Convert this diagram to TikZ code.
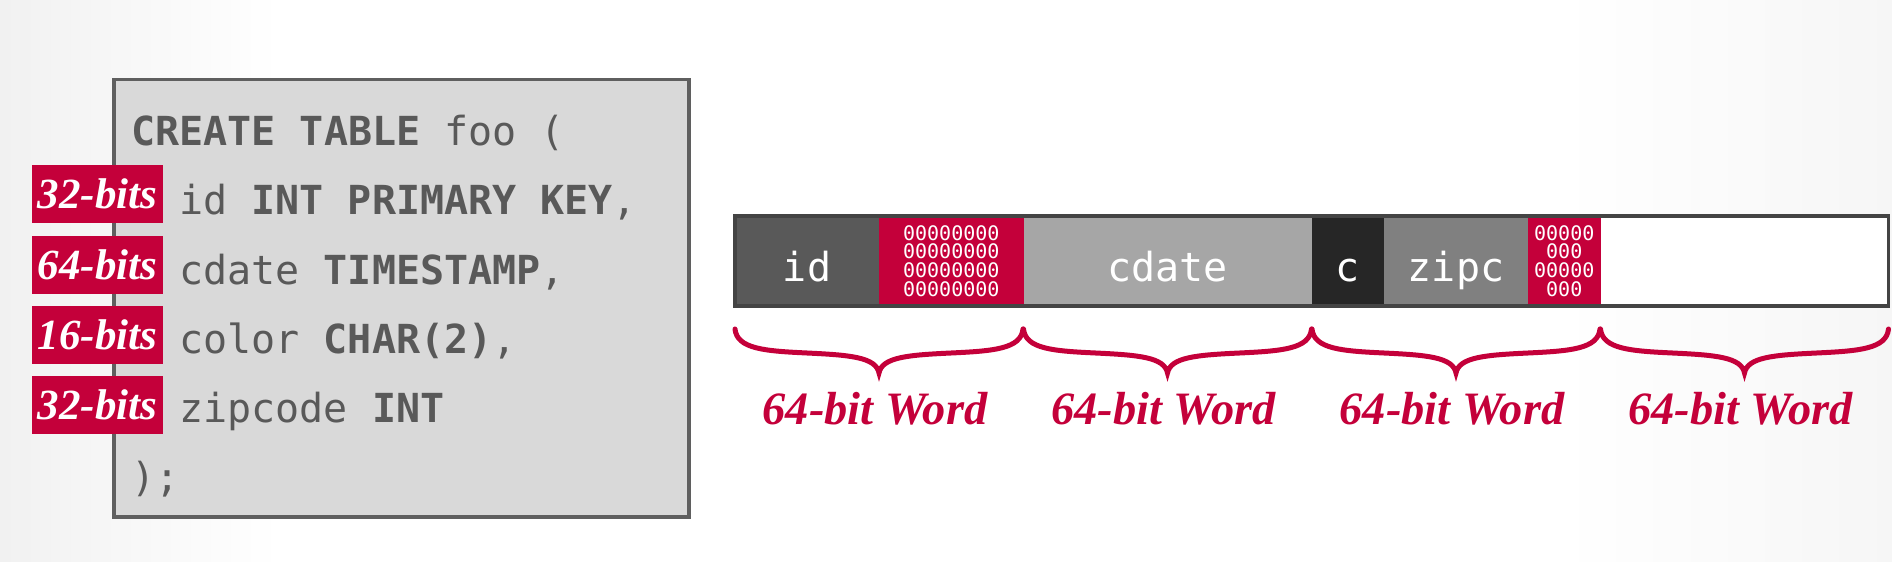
\documentclass[tikz,border=0pt]{standalone}
\usepackage{fontspec}
\setmonofont{DejaVu Sans Mono}
\newfontfamily\wordfont{Liberation Serif}
\usepackage{tikz}
\usepackage{xcolor}
\definecolor{cmured}{RGB}{196,0,58}
\definecolor{codegray}{RGB}{89,89,89}
\definecolor{boxfill}{RGB}{217,217,217}
\definecolor{boxline}{RGB}{95,95,95}
\definecolor{barline}{RGB}{68,68,68}
\definecolor{idgray}{RGB}{89,89,89}
\definecolor{dategray}{RGB}{166,166,166}
\definecolor{chargray}{RGB}{38,38,38}
\definecolor{zipgray}{RGB}{128,128,128}

\begin{document}
\begin{tikzpicture}[x = 0.5pt, y = -0.5pt,
		codeline/.style = {anchor = base west, inner sep = 0, text = codegray, font = \ttfamily\fontsize{20}{24}\selectfont},
		bitbadge/.style = {fill = cmured, text = white, inner sep = 0, minimum width = 65.5pt, minimum height = 29pt, font = \wordfont\bfseries\itshape\fontsize{21.5}{24}\selectfont},
		cell/.style = {anchor = west, inner sep = 0, outer sep = 0, minimum height = 45pt, text = white, text height = 20pt, text depth = 0pt, font = \ttfamily\fontsize{20}{24}\selectfont},
		padcell/.style = {anchor = west, inner sep = 0, outer sep = 0, minimum height = 45pt, fill = cmured, text = white, align = center, font = \ttfamily\fontsize{10}{9.4}\selectfont},
		wordbrace/.style = {draw = cmured, line width = 2.5pt, line cap = round},
		wordlabel/.style = {anchor = base, text = cmured, font = \wordfont\bfseries\itshape\fontsize{23.2}{26}\selectfont}]
		\useasboundingbox (0,0) rectangle (1892,562);
		% slide background
		\fill[white] (0,0) rectangle (1892,562);
		\fill[left color = gray!11, right color = white] (0,0) rectangle (280,562);
		\fill[left color = white, right color = gray!7] (1560,0) rectangle (1892,562);

		% table definition
		\node[draw = boxline, fill = boxfill, line width = 1.75pt, inner sep = 0, minimum width = 287.5pt, minimum height = 218.75pt, anchor = north west] (codebox) at (112,77.5) {};
		\node[codeline] (l0) at (131,145) {\textbf{CREATE TABLE} foo (};
		\node[codeline] (l1) at (179,214) {id \textbf{INT PRIMARY KEY},};
		\node[codeline] (l2) at (179,284) {cdate \textbf{TIMESTAMP},};
		\node[codeline] (l3) at (179,353) {color \textbf{CHAR(2)},};
		\node[codeline] (l4) at (179,422) {zipcode \textbf{INT}};
		\node[codeline] (l5) at (131,491) {);};
		\node[bitbadge] (b1) at (97.5,194) {32-bits};
		\node[bitbadge] (b2) at (97.5,264.5) {64-bits};
		\node[bitbadge] (b3) at (97.5,334.5) {16-bits};
		\node[bitbadge] (b4) at (97.5,404.5) {32-bits};

		% tuple layout
		\node[cell, fill = idgray, minimum width = 72pt] (id) at (735,261) {id};
		\node[padcell, minimum width = 72.25pt] (pad1) at (id.east) {00000000\\00000000\\00000000\\00000000};
		\node[cell, fill = dategray, minimum width = 144.25pt] (cdate) at (pad1.east) {cdate};
		\node[cell, fill = chargray, minimum width = 36pt] (color) at (cdate.east) {c};
		\node[cell, fill = zipgray, minimum width = 72pt] (zip) at (color.east) {zipc};
		\node[padcell, minimum width = 36.25pt] (pad2) at (zip.east) {00000\\000\\00000\\000};
		\node[cell, fill = white, minimum width = 144pt] (empty) at (pad2.east) {};
		\draw[draw = barline, line width = 1.65pt] (id.north west) rectangle (empty.south east);

		% word boundaries
		\path (id.south west) ++(0,23) coordinate (w0);
		\path (pad1.south east) ++(0,23) coordinate (w1);
		\path (cdate.south east) ++(0,23) coordinate (w2);
		\path (pad2.south east) ++(0,23) coordinate (w3);
		\path (empty.south east) ++(0,23) coordinate (w4);
		\foreach \a in {w0, w1, w2, w3} {
			\draw[wordbrace] (\a) .. controls +(2,20) and +(-42,-2) .. ++(72,24)
				.. controls +(42,2) and +(-3,-16) .. ++(72,20) coordinate (tip\a)
				.. controls +(3,-16) and +(-42,2) .. ++(72,-20)
				.. controls +(42,-2) and +(-2,20) .. ++(72,-24);
			\node[wordlabel, xshift = -2pt] (lbl\a) at ([yshift = -25.5pt]tip\a) {64-bit Word};
		}
	\end{tikzpicture}
\end{document}
